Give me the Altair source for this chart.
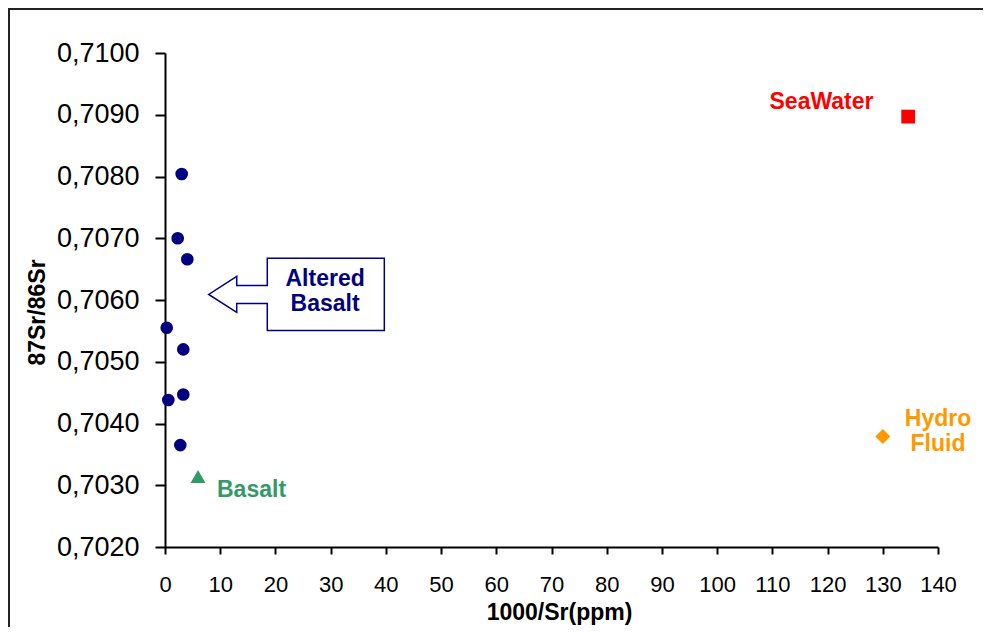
import altair as alt
import pandas as pd

# ---- data ----
altered_x = [3.02, 2.30, 4.04, 0.31, 3.31, 0.60, 3.31, 2.77]
altered_y = [0.70804, 0.70700, 0.70666, 0.70555, 0.70520, 0.70438, 0.70447, 0.70365]
basalt_x = [5.98]
basalt_y = [0.70314]
seawater_x = [134.6]
seawater_y = [0.70897]
hydro_x = [130.0]
hydro_y = [0.70379]

x_ticks = list(range(0, 141, 10))
y_ticks = [0.702, 0.703, 0.704, 0.705, 0.706, 0.707, 0.708, 0.709, 0.710]

# text labels (centered); y is the first line's position
lab_text = ["SeaWater", "Hydro\nFluid", "Altered\nBasalt"]
lab_x = [118.9, 140.0, 29.0]
lab_y = [0.70920, 0.70407, 0.70634]
lab_color = ["#FF0000", "#FF9900", "#000080"]
# left aligned label
basalt_lab = ["Basalt"]
basalt_lab_x = [9.42]
basalt_lab_y = [0.70292]

# callout arrow anchor (data space)
callout_x = [23.82]
callout_y = [0.70609]

NAVY = "#000080"
FONT = "Liberation Sans"

W, H = 773, 494
PAD = {"left": 157, "top": 45, "right": 45, "bottom": 80}

xs = alt.Scale(domain=[0, 140], nice=False, zero=False)
ys = alt.Scale(domain=[0.702, 0.710], nice=False, zero=False)

x_axis = alt.Axis(
    values=x_ticks, title="1000/Sr(ppm)", grid=False, labelFlush=False, labelOverlap=False,
    domainColor="black", domainWidth=2, tickColor="black", tickWidth=2, tickSize=7,
    labelFont=FONT, labelFontSize=22, labelColor="black", labelPadding=20,
    titleFont=FONT, titleFontSize=23, titleFontWeight="bold", titleColor="black",
    titleX=394, titleY=65, titleBaseline="middle", titleAlign="center",
)
y_axis = alt.Axis(
    values=y_ticks, title="87Sr/86Sr", grid=False, labelFlush=False, labelOverlap=False,
    labelExpr="replace(format(datum.value, '.4f'), '.', ',')",
    domainColor="black", domainWidth=2, tickColor="black", tickWidth=2, tickSize=10,
    labelFont=FONT, labelFontSize=27, labelColor="black", labelPadding=16,
    titleFont=FONT, titleFontSize=23, titleFontWeight="bold", titleColor="black",
    titleX=-128, titleY=259, titleAngle=270, titleBaseline="middle", titleAlign="center",
)

df_alt = pd.DataFrame({"x": altered_x, "y": altered_y})
df_bas = pd.DataFrame({"x": basalt_x, "y": basalt_y})
df_sea = pd.DataFrame({"x": seawater_x, "y": seawater_y})
df_hyd = pd.DataFrame({"x": hydro_x, "y": hydro_y})
df_lab = pd.DataFrame({"x": lab_x, "y": lab_y, "t": lab_text, "c": lab_color})
df_blab = pd.DataFrame({"x": basalt_lab_x, "y": basalt_lab_y, "t": basalt_lab})
df_call = pd.DataFrame({"x": callout_x, "y": callout_y})

X = alt.X("x:Q", scale=xs, axis=x_axis)
Y = alt.Y("y:Q", scale=ys, axis=y_axis)
Xp = alt.X("x:Q", scale=xs)
Yp = alt.Y("y:Q", scale=ys)

base = alt.Chart(df_alt).mark_point(filled=True, shape="circle", size=160, color=NAVY, opacity=1).encode(x=X, y=Y)

basalt = alt.Chart(df_bas).mark_point(filled=True, shape="triangle-up", size=225, color="#339966", opacity=1).encode(x=Xp, y=Yp)
sea = alt.Chart(df_sea).mark_point(filled=True, shape="square", size=190, color="#FF0000", opacity=1).encode(x=Xp, y=Yp)
hyd = alt.Chart(df_hyd).mark_point(filled=True, shape="diamond", size=225, color="#FF9900", opacity=1).encode(x=Xp, y=Yp)

callout_path = ("M -0.333 -0.412 L 1 -0.412 L 1 0.412 L -0.333 0.412 L -0.333 0.103 "
                "L -0.681 0.103 L -0.681 0.205 L -1 0 L -0.681 -0.205 L -0.681 -0.103 "
                "L -0.333 -0.103 Z")
callout = alt.Chart(df_call).mark_point(
    shape=callout_path, size=30835, filled=True, fill="white", stroke=NAVY,
    strokeWidth=1.5, opacity=1, fillOpacity=1, strokeOpacity=1,
).encode(x=Xp, y=Yp)

labels = alt.Chart(df_lab).mark_text(
    font=FONT, fontSize=23, fontWeight="bold", align="center", baseline="middle",
    lineBreak="\n", lineHeight=25,
).encode(x=Xp, y=Yp, text="t:N", color=alt.Color("c:N", scale=None))

blabel = alt.Chart(df_blab).mark_text(
    font=FONT, fontSize=23, fontWeight="bold", align="left", baseline="middle", color="#339966",
).encode(x=Xp, y=Yp, text="t:N")

# outer chart frame (decoration)
frame_left = alt.Chart(df_call).mark_rule(color="#222222", strokeWidth=2).encode(
    x=alt.value(-156), y=alt.value(-44), y2=alt.value(H + PAD["bottom"]))
frame_top = alt.Chart(df_call).mark_rule(color="#222222", strokeWidth=2).encode(
    x=alt.value(-157), x2=alt.value(W + PAD["right"]), y=alt.value(-44))

chart = alt.layer(base, basalt, sea, hyd, callout, labels, blabel, frame_left, frame_top).properties(
    width=W, height=H,
    autosize=alt.AutoSizeParams(type="none"),
    padding=PAD,
    background="white",
).configure_view(stroke=None)

chart.save("out.html", embed_options={"renderer": "svg", "actions": False})
